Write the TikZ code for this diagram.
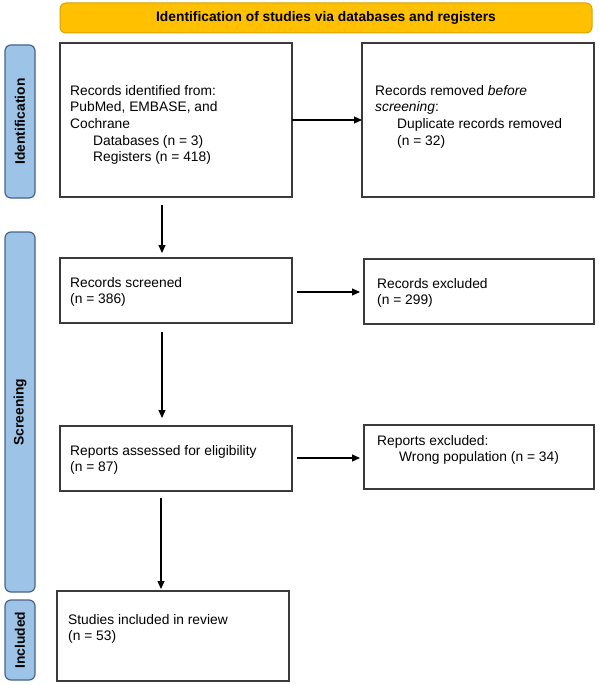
\documentclass[tikz,border=0pt]{standalone}
\usepackage{fontspec}
\setmainfont{Liberation Sans}
\usetikzlibrary{arrows.meta,calc}
\definecolor{bannerfill}{HTML}{FFC000}
\definecolor{bannerdraw}{HTML}{D9A300}
\definecolor{phasefill}{HTML}{9DC3E6}
\definecolor{phasedraw}{HTML}{44648A}
\definecolor{boxdraw}{HTML}{3A3A3A}
\begin{document}
\begin{tikzpicture}[x=1pt,y=-1pt,
  box/.style={draw=boxdraw,line width=1.4pt,fill=white,inner sep=0pt,outer sep=0pt,anchor=north west},
  phase/.style={draw=phasedraw,line width=1.2pt,fill=phasefill,rounded corners=6pt,inner sep=0pt,outer sep=0pt,anchor=north west},
  banner/.style={draw=bannerdraw,line width=1pt,fill=bannerfill,rounded corners=6pt,inner sep=0pt,outer sep=0pt,anchor=north west},
  phaselabel/.style={rotate=90,font=\fontsize{13.8}{16}\selectfont\bfseries,inner sep=0pt},
  txt/.style={anchor=north west,inner sep=0pt,align=left,font=\fontsize{13.8}{16.6}\selectfont},
  arr/.style={-{Triangle[length=8pt,width=7pt]},line width=1.1pt,black}]
\useasboundingbox (0,0) rectangle (598,685);
% banner
\node[banner,minimum width=532pt,minimum height=30pt] (ban) at (60,3) {};
\node[font=\fontsize{13.8}{16}\selectfont\bfseries,inner sep=0pt] (bant) at (ban.center) {Identification of studies via databases and registers};
% phase bars
\node[phase,minimum width=30pt,minimum height=153pt] (p1) at (5,45) {};
\node[phaselabel] (p1t) at (p1.center) {Identification};
\node[phase,minimum width=30pt,minimum height=360pt] (p2) at (5,232) {};
\node[phaselabel] (p2t) at (p2.center) {Screening};
\node[phase,minimum width=30pt,minimum height=80pt] (p3) at (5,600) {};
\node[phaselabel] (p3t) at (p3.center) {Included};
% boxes
\node[box,minimum width=232pt,minimum height=154pt] (b1) at (60,43) {};
\node[txt] (t1) at ($(b1.north west)+(10,42)$) {Records identified from:\\PubMed, EMBASE, and\\Cochrane\\\hspace*{23pt}Databases (n = 3)\\\hspace*{23pt}Registers (n = 418)};
\node[box,minimum width=232pt,minimum height=154pt] (b2) at (362,43) {};
\node[txt] (t2) at ($(b2.north west)+(13,42)$) {Records removed \textit{before}\\\textit{screening}:\\\hspace*{22pt}Duplicate records removed\\\hspace*{22pt}(n = 32)};
\node[box,minimum width=232pt,minimum height=65pt] (b3) at (60,258) {};
\node[txt] (t3) at ($(b3.north west)+(10,19)$) {Records screened\\(n = 386)};
\node[box,minimum width=230pt,minimum height=65pt] (b4) at (364,259) {};
\node[txt] (t4) at ($(b4.north west)+(13,19)$) {Records excluded\\(n = 299)};
\node[box,minimum width=232pt,minimum height=65pt] (b5) at (60,426) {};
\node[txt] (t5) at ($(b5.north west)+(10,19)$) {Reports assessed for eligibility\\(n = 87)};
\node[box,minimum width=230pt,minimum height=64pt] (b6) at (364,425) {};
\node[txt] (t6) at ($(b6.north west)+(13,10)$) {Reports excluded:\\\hspace*{22pt}Wrong population (n = 34)};
\node[box,minimum width=232pt,minimum height=90pt] (b7) at (57,591) {};
\node[txt] (t7) at ($(b7.north west)+(11,23)$) {Studies included in review\\(n = 53)};
% arrows
\coordinate (a1s) at ($(b1.south west)+(102,8)$);
\coordinate (a2s) at ($(b3.south west)+(102,9)$);
\coordinate (a3s) at ($(b5.south west)+(101,7)$);
\draw[arr] (b1.east |- 0,120) -- (b2.west |- 0,120);
\draw[arr,shorten >=5pt] (a1s) -- (a1s |- b3.north);
\draw[arr,shorten >=8pt] (a2s) -- (a2s |- b5.north);
\draw[arr,shorten >=2pt] (a3s) -- (a3s |- b7.north);
\draw[arr,shorten <=5pt,shorten >=4pt] (b3.east |- 0,292) -- (b4.west |- 0,292);
\draw[arr,shorten <=5pt,shorten >=4pt] (b5.east |- 0,458) -- (b6.west |- 0,458);
\end{tikzpicture}
\end{document}
